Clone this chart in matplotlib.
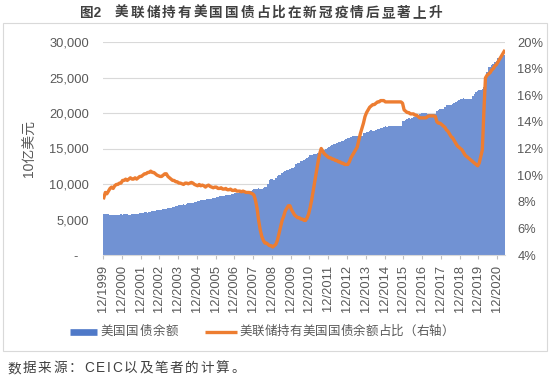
import matplotlib
matplotlib.use("Agg")
import matplotlib.pyplot as plt
import numpy as np
from matplotlib.lines import Line2D
from matplotlib.patches import Rectangle
from matplotlib.ticker import FuncFormatter, MultipleLocator

plt.rcParams["font.family"] = ["Liberation Sans", "Noto Sans CJK SC"]

W, H = 550, 379

# monthly, 12/1999 .. 4/2021, billion USD
debt = [
    5776,
    5712, 5735, 5773, 5685, 5648, 5686, 5657, 5679, 5674, 5657, 5709, 5662,
    5716, 5735, 5774, 5661, 5656, 5727, 5718, 5770, 5807, 5815, 5888, 5943,
    5937, 6003, 6006, 5984, 6019, 6126, 6159, 6210, 6228, 6282, 6343, 6405,
    6401, 6445, 6460, 6460, 6558, 6670, 6677, 6782, 6783, 6872, 6925, 6998,
    7001, 7072, 7131, 7087, 7212, 7274, 7293, 7359, 7379, 7429, 7525, 7596,
    7628, 7713, 7777, 7759, 7773, 7837, 7857, 7934, 7933, 8027, 8092, 8170,
    8196, 8269, 8371, 8356, 8356, 8420, 8421, 8506, 8507, 8584, 8632, 8680,
    8707, 8768, 8849, 8839, 8817, 8867, 8932, 8952, 9008, 9079, 9150, 9229,
    9238, 9298, 9437, 9358, 9365, 9492, 9585, 9646, 10025, 10575, 10670, 10700,
    10632, 10880, 11127, 11238, 11313, 11545, 11677, 11813, 11910, 11926, 12091, 12311,
    12278, 12440, 12773, 12948, 12993, 13202, 13239, 13395, 13562, 13669, 13862, 14025,
    14131, 14195, 14270, 14290, 14343, 14343, 14343, 14684, 14790, 14975, 15111, 15223,
    15356, 15480, 15582, 15690, 15771, 15856, 15933, 16016, 16066, 16262, 16370, 16433,
    16433, 16687, 16771, 16829, 16739, 16738, 16738, 16738, 16738, 17156, 17232, 17352,
    17293, 17463, 17601, 17512, 17517, 17632, 17687, 17750, 17824, 17937, 18005, 18141,
    18082, 18156, 18152, 18152, 18153, 18152, 18151, 18151, 18151, 18153, 18827, 18922,
    19012, 19125, 19264, 19187, 19265, 19381, 19428, 19510, 19573, 19805, 19948, 19977,
    19938, 19959, 19846, 19846, 19846, 19845, 19845, 19845, 20245, 20442, 20590, 20493,
    20494, 20856, 21090, 21069, 21145, 21195, 21313, 21458, 21516, 21702, 21851, 21974,
    21982, 22115, 22028, 22027, 22027, 22023, 22023, 22464, 22719, 23008, 23076, 23201,
    23223, 23410, 23687, 24974, 25750, 26477, 26529, 26729, 26945, 27196, 27357, 27748,
    27752, 27955, 28133, 28176,
]

# Fed holdings as % of outstanding Treasuries (right axis)
fed_share = [
    8.3,
    8.7, 8.6, 8.8, 9.0, 9.1, 9.0, 9.2, 9.3, 9.3, 9.4, 9.4, 9.6,
    9.6, 9.7, 9.6, 9.7, 9.8, 9.7, 9.7, 9.8, 9.7, 9.8, 9.9, 9.9,
    10.0, 10.1, 10.1, 10.2, 10.2, 10.3, 10.2, 10.2, 10.1, 10.0, 9.95, 9.9,
    9.9, 10.0, 10.1, 10.1, 9.9, 9.8, 9.7, 9.6, 9.6, 9.5, 9.5, 9.4,
    9.4, 9.35, 9.3, 9.4, 9.4, 9.35, 9.4, 9.45, 9.4, 9.3, 9.25, 9.2,
    9.3, 9.2, 9.25, 9.2, 9.1, 9.2, 9.25, 9.15, 9.1, 9.05, 9.1, 9.1,
    9.0, 9.0, 9.05, 8.95, 8.95, 9.0, 8.9, 8.9, 8.95, 8.85, 8.85, 8.9,
    8.8, 8.8, 8.8, 8.75, 8.8, 8.75, 8.7, 8.7, 8.7, 8.65, 8.6, 8.5,
    8.1, 7.5, 6.6, 5.9, 5.4, 5.1, 4.9, 4.9, 4.8, 4.7, 4.7, 4.6,
    4.7, 4.8, 5.1, 5.6, 6.1, 6.6, 6.9, 7.3, 7.5, 7.7, 7.7, 7.4,
    7.2, 7.0, 6.9, 6.8, 6.8, 6.7, 6.7, 6.6, 6.6, 6.8, 7.1, 7.6,
    8.2, 8.9, 9.6, 10.3, 11.0, 11.6, 12.0, 11.8, 11.6, 11.5, 11.4, 11.3,
    11.3, 11.2, 11.2, 11.1, 11.1, 11.0, 11.0, 10.9, 10.9, 10.8, 10.8, 10.8,
    11.0, 11.3, 11.5, 11.7, 11.9, 12.1, 12.6, 13.1, 13.5, 13.9, 14.4, 14.7,
    14.9, 15.1, 15.2, 15.3, 15.3, 15.4, 15.5, 15.5, 15.6, 15.6, 15.6, 15.5,
    15.5, 15.5, 15.5, 15.5, 15.5, 15.5, 15.5, 15.5, 15.5, 15.5, 15.4, 14.9,
    14.8, 14.7, 14.7, 14.6, 14.6, 14.6, 14.5, 14.5, 14.4, 14.3, 14.3, 14.3,
    14.3, 14.3, 14.4, 14.45, 14.45, 14.45, 14.45, 14.4, 14.0, 13.9, 13.9, 13.8,
    13.7, 13.6, 13.4, 13.3, 13.1, 12.9, 12.8, 12.6, 12.4, 12.2, 12.1, 12.0,
    11.9, 11.7, 11.5, 11.4, 11.3, 11.2, 11.1, 11.0, 10.9, 10.8, 10.7, 10.9,
    11.4, 11.9, 14.8, 17.3, 17.5, 17.6, 17.7, 17.9, 18.0, 18.2, 18.3, 18.5,
    18.7, 18.9, 19.1, 19.3,
]

tick_labels = [
    "12/1999", "12/2000", "12/2001", "12/2002", "12/2003", "12/2004",
    "12/2005", "12/2006", "12/2007", "12/2008", "12/2009", "12/2010",
    "12/2011", "12/2012", "12/2013", "12/2014", "12/2015", "12/2016",
    "12/2017", "12/2018", "12/2019", "12/2020",
]

series_names = ["美国国债余额", "美联储持有美国国债余额占比（右轴）"]

TEXT_GRAY = "#595959"
BLUE = "#7192d3"
LEGEND_BLUE = "#4f79c8"
ORANGE = "#ed7d31"


def spaced_text(fig, s, x0, x1, y, size, **kw):
    # letter-spaced text filling pixel x0..x1, centred on pixel row y
    renderer = fig.canvas.get_renderer()

    def width(txt):
        t = fig.text(0, 0, txt, fontsize=size, **kw)
        w = t.get_window_extent(renderer).width
        t.remove()
        return w

    ink = [width(ch) for ch in s]
    adv = [width(ch * 2) - w for ch, w in zip(s, ink)]
    gap = (x1 - x0 - sum(adv[:-1]) - ink[-1]) / max(len(s) - 1, 1)
    x = x0
    for ch, a in zip(s, adv):
        fig.text(x / W, 1 - y / H, ch, fontsize=size, ha="left", va="center", **kw)
        x += a + gap


fig = plt.figure(figsize=(W / 100, H / 100), dpi=100)
ax = fig.add_axes([103 / W, 1 - 255 / H, 402 / W, 213 / H])
ax2 = ax.twinx()

x = np.arange(len(debt))
ax.bar(x, debt, width=1.0, color=BLUE, linewidth=0, zorder=2)
ax.set_xlim(-0.5, len(debt) - 0.5)
ax.set_ylim(0, 30000)
ax.yaxis.set_major_locator(MultipleLocator(5000))
ax.yaxis.set_major_formatter(FuncFormatter(lambda v, p: "-   " if v == 0 else f"{v:,.0f}"))
ax.grid(axis="y", color="#d9d9d9", linewidth=0.8, zorder=0)
ax.set_axisbelow(True)

ax.set_xticks(np.arange(0, len(debt), 12)[: len(tick_labels)] - 0.5)
ax.set_xticklabels(tick_labels, rotation=90, fontsize=9.3, color=TEXT_GRAY)
ax.tick_params(axis="x", length=3, color="#bfbfbf", pad=4)
ax.tick_params(axis="y", length=0, pad=10, labelsize=9.3, labelcolor=TEXT_GRAY)
ax.set_ylabel("10亿美元", fontsize=10, color=TEXT_GRAY, labelpad=9)

ax2.plot(x, fed_share, color=ORANGE, linewidth=2.4, solid_joinstyle="round", zorder=3)
ax2.set_ylim(4, 20)
ax2.yaxis.set_major_locator(MultipleLocator(2))
ax2.yaxis.set_major_formatter(FuncFormatter(lambda v, p: f"{v:.0f}%"))
ax2.tick_params(axis="y", length=0, pad=9, labelsize=9.3, labelcolor=TEXT_GRAY)

for a in (ax, ax2):
    for s in a.spines.values():
        s.set_visible(False)
ax.spines["bottom"].set_visible(True)
ax.spines["bottom"].set_color("#d9d9d9")

# legend, laid out by hand to copy the spacing of the original
ly = 1 - 332 / H
fig.add_artist(Line2D([70 / W, 97 / W], [ly, ly], color=LEGEND_BLUE, linewidth=4.8,
                      solid_capstyle="butt", transform=fig.transFigure))
fig.add_artist(Line2D([205 / W, 237 / W], [ly, ly], color=ORANGE, linewidth=2.4,
                      solid_capstyle="butt", transform=fig.transFigure))
spaced_text(fig, series_names[0], 100, 178, 332, 9, color=TEXT_GRAY)
spaced_text(fig, series_names[1], 239, 454, 332, 9, color=TEXT_GRAY)

fig.patches.append(
    Rectangle((3 / W, 1 - 351 / H), 544 / W, 328 / H,
              transform=fig.transFigure, fill=False, edgecolor="#d9d9d9", linewidth=0.8)
)

fig.text(80 / W, 1 - 13 / H, "图2", fontsize=9.8, fontweight="bold", color="#404040",
         ha="left", va="center")
spaced_text(fig, "美联储持有美国国债占比在新冠疫情后显著上升", 115, 442, 13, 9.8,
            fontweight="bold", color="#404040")
spaced_text(fig, "数据来源：CEIC以及笔者的计算。", 7, 245, 368, 9.8, color="#404040")

fig.savefig("out.png", dpi=100)
plt.close(fig)
